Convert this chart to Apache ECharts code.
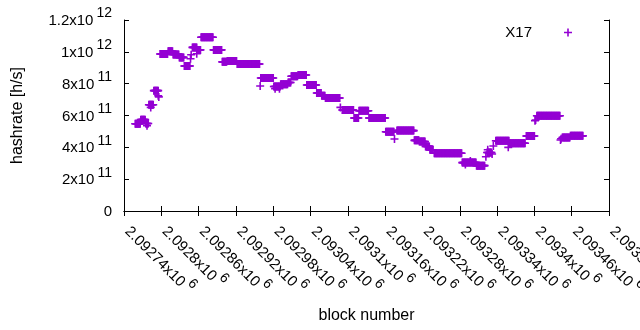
<html>
<head>
    <meta charset="utf-8" />
    <script src="https://cdn.jsdelivr.net/npm/echarts@6/dist/echarts.min.js"></script>
    <title>hashrate X17</title>
    <style>
        body { margin: 0; background: #fff; }
        #main { width: 640px; height: 330px; }
    </style>
</head>
<body>
    <div id="main"></div>
    <script type="text/javascript">
        // runs of blocks sharing one hashrate value (first block, last block, h/s)
        var runFirst = [2092758, 2092767, 2092775, 2092777, 2092780, 2092783, 2092788, 2092795, 2092796, 2092798,
            2092811, 2092819, 2092829, 2092837, 2092847, 2092848, 2092850, 2092857, 2092858, 2092864,
            2092884, 2092898, 2092906, 2092922, 2092959, 2092960, 2092981, 2092983, 2092990, 2092992,
            2093004, 2093009, 2093020, 2093034, 2093050, 2093058, 2093064, 2093088, 2093091, 2093110,
            2093118, 2093134, 2093161, 2093175, 2093179, 2093207, 2093215, 2093225, 2093232, 2093239,
            2093284, 2093289, 2093297, 2093307, 2093322, 2093324, 2093325, 2093332, 2093334, 2093338,
            2093358, 2093360, 2093387, 2093401, 2093402, 2093404, 2093442, 2093443, 2093445, 2093458];
        var runLast = [2092766, 2092774, 2092779, 2092777, 2092787, 2092783, 2092795, 2092795, 2092796, 2092810,
            2092818, 2092828, 2092836, 2092846, 2092847, 2092848, 2092857, 2092857, 2092863, 2092883,
            2092897, 2092905, 2092921, 2092958, 2092959, 2092980, 2092991, 2092983, 2092990, 2093003,
            2093008, 2093019, 2093033, 2093049, 2093057, 2093063, 2093087, 2093088, 2093109, 2093117,
            2093133, 2093160, 2093174, 2093175, 2093206, 2093214, 2093224, 2093231, 2093237, 2093283,
            2093306, 2093289, 2093297, 2093320, 2093322, 2093331, 2093325, 2093332, 2093334, 2093359,
            2093358, 2093385, 2093400, 2093401, 2093402, 2093441, 2093442, 2093443, 2093457, 2093478];
        var runValue = [5.48e11, 5.74e11, 5.50e11, 5.36e11, 6.68e11, 6.51e11, 7.56e11, 7.24e11, 7.17e11, 9.86e11,
            10.04e11, 9.84e11, 9.65e11, 9.11e11, 9.57e11, 9.82e11, 10.28e11, 9.88e11, 10.12e11, 10.92e11,
            10.12e11, 9.37e11, 9.43e11, 9.24e11, 7.85e11, 8.36e11, 7.82e11, 7.68e11, 7.68e11, 7.97e11,
            8.07e11, 8.47e11, 8.54e11, 7.92e11, 7.41e11, 7.24e11, 7.10e11, 6.51e11, 6.35e11, 5.84e11,
            6.30e11, 5.84e11, 4.98e11, 4.52e11, 5.05e11, 4.44e11, 4.37e11, 4.06e11, 3.85e11, 3.63e11,
            3.04e11, 2.92e11, 3.14e11, 2.85e11, 3.41e11, 3.68e11, 3.85e11, 3.58e11, 4.08e11, 4.41e11,
            4.00e11, 4.26e11, 4.71e11, 5.67e11, 5.72e11, 5.98e11, 4.46e11, 4.54e11, 4.62e11, 4.72e11];

        var xMin = 2092740, xMax = 2093520, xStep = 60;
        var yMin = 0, yMax = 1.2e12, yStep = 2e11;

        var points = [];
        for (var i = 0; i < runFirst.length; i++) {
            for (var b = runFirst[i]; b <= runLast[i]; b++) {
                points.push([b, runValue[i]]);
            }
        }

        var plusPath = 'path://M0,3.2H8V4.8H0Z M3.2,0H4.8V8H3.2Z';
        var font = 'Liberation Sans';

        function sciLabel(v) {
            if (v === 0) return '{b|0}';
            var e = Math.floor(Math.log10(Math.abs(v)) + 1e-9);
            var m = parseFloat((v / Math.pow(10, e)).toPrecision(7));
            return '{b|' + m + 'x10}{s|' + e + '}';
        }

        var rich = {
            b: { fontFamily: font, fontSize: 15, color: '#000', lineHeight: 22, verticalAlign: 'bottom' },
            s: { fontFamily: font, fontSize: 14, color: '#000', lineHeight: 14, verticalAlign: 'top', padding: [0, 0, 0, 3] }
        };

        var chart = echarts.init(document.getElementById('main'));
        var option = {
            animation: false,
            backgroundColor: '#fff',
            grid: { left: 124, right: 31, top: 20, bottom: 119, outerBoundsMode: 'none' },
            legend: {
                data: ['X17'],
                right: 63,
                top: 20,
                align: 'right',
                icon: plusPath,
                itemWidth: 8,
                itemHeight: 8,
                textStyle: { fontFamily: font, fontSize: 15, color: '#000', padding: [0, 27, 0, 0] }
            },
            xAxis: [{
                type: 'value',
                min: xMin, max: xMax, interval: xStep,
                name: 'block number',
                nameLocation: 'middle',
                nameGap: 97,
                nameTextStyle: { fontFamily: font, fontSize: 16, color: '#000' },
                axisLine: { lineStyle: { color: '#000', width: 1 } },
                axisTick: { inside: true, length: 5, lineStyle: { color: '#000' } },
                splitLine: { show: false },
                axisLabel: {
                    rotate: -45, margin: 10, padding: [0, 0, 0, 8],
                    showMinLabel: true, showMaxLabel: true,
                    formatter: sciLabel, rich: rich
                }
            }, {
                type: 'value', position: 'top',
                min: xMin, max: xMax, interval: xStep,
                axisLine: { lineStyle: { color: '#000', width: 1 } },
                axisTick: { inside: true, length: 5, lineStyle: { color: '#000' } },
                axisLabel: { show: false },
                splitLine: { show: false }
            }],
            yAxis: [{
                type: 'value',
                min: yMin, max: yMax, interval: yStep,
                name: 'hashrate [h/s]',
                nameLocation: 'middle',
                nameGap: 98,
                nameTextStyle: { fontFamily: font, fontSize: 16, color: '#000' },
                axisLine: { show: true, lineStyle: { color: '#000', width: 1 } },
                axisTick: { show: true, inside: true, length: 5, lineStyle: { color: '#000' } },
                splitLine: { show: false },
                axisLabel: { margin: 12, padding: [0, 0, 5, 0], formatter: sciLabel, rich: rich }
            }, {
                type: 'value', position: 'right',
                min: yMin, max: yMax, interval: yStep,
                axisLine: { show: true, lineStyle: { color: '#000', width: 1 } },
                axisTick: { show: true, inside: true, length: 5, lineStyle: { color: '#000' } },
                axisLabel: { show: false },
                splitLine: { show: false }
            }],
            series: [{
                name: 'X17',
                type: 'scatter',
                data: points,
                symbol: plusPath,
                symbolSize: 8,
                itemStyle: { color: '#9400d3', opacity: 1 },
                emphasis: { disabled: true }
            }]
        };
        chart.setOption(option);
    </script>
</body>
</html>
